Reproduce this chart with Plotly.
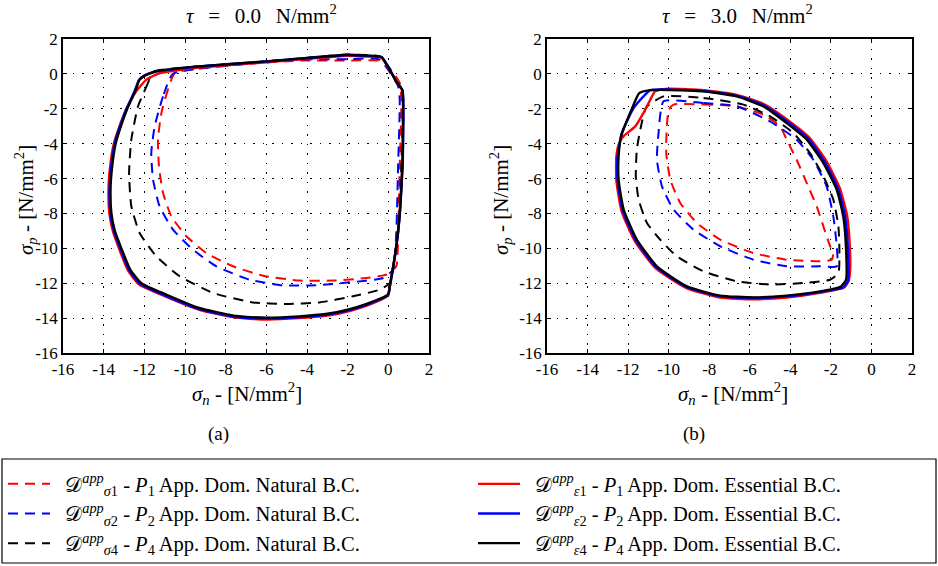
import plotly.graph_objects as go

# ---------------- data: tau = 0.0 N/mm2 (panel a) ----------------
a_ess_p4_x = [-11.98, -11.40, -9.30, -6.00, -4.00, -2.70, -2.10, -1.10, -0.34, 0.39, 0.69, 0.72, 0.70, 0.64, 0.56, 0.46, 0.34, 0.20, 0.08, -0.02, -1.10, -2.10, -3.00, -4.40, -6.00, -7.60, -9.30, -10.90, -12.15, -12.70, -13.13, -13.45, -13.62, -13.66, -13.55, -13.41, -13.15, -12.84, -12.45, -12.23, -11.98]
a_ess_p4_y = [-0.10, 0.15, 0.43, 0.72, 0.92, 1.04, 1.10, 1.05, 0.97, -0.43, -0.94, -3.40, -5.00, -6.45, -8.00, -9.20, -10.30, -11.30, -12.10, -12.65, -13.20, -13.55, -13.75, -13.90, -13.97, -13.86, -13.42, -12.66, -12.00, -11.20, -10.00, -9.00, -8.00, -6.50, -5.00, -4.00, -3.00, -2.00, -1.00, -0.33, -0.10]

a_ess_p2_x = [-12.00, -11.40, -9.30, -6.00, -4.00, -2.70, -2.10, -1.10, -0.32, 0.40, 0.70, 0.73, 0.71, 0.65, 0.57, 0.47, 0.35, 0.21, 0.09, -0.01, -1.10, -2.10, -3.00, -4.40, -6.00, -7.60, -9.30, -10.95, -12.20, -12.75, -13.18, -13.50, -13.67, -13.71, -13.60, -13.46, -13.20, -12.88, -12.48, -12.27, -12.00]
a_ess_p2_y = [-0.10, 0.14, 0.42, 0.71, 0.90, 1.02, 1.08, 1.03, 0.95, -0.45, -0.96, -3.40, -5.00, -6.45, -8.00, -9.20, -10.30, -11.30, -12.10, -12.68, -13.25, -13.60, -13.80, -13.95, -14.02, -13.92, -13.48, -12.72, -12.05, -11.25, -10.02, -9.00, -8.00, -6.50, -5.00, -4.00, -3.00, -2.00, -1.00, -0.36, -0.10]

a_ess_p1_x = [-12.46, -11.90, -11.24, -10.42, -9.30, -6.00, -4.00, -2.70, -2.10, -1.10, -0.34, 0.39, 0.69, 0.72, 0.70, 0.64, 0.56, 0.46, 0.34, 0.20, 0.08, -0.02, -1.10, -2.10, -3.00, -4.40, -6.00, -7.60, -9.30, -11.00, -12.25, -12.80, -13.23, -13.55, -13.72, -13.76, -13.65, -13.50, -13.22, -12.88, -12.46]
a_ess_p1_y = [-1.10, -0.33, 0.05, 0.20, 0.36, 0.66, 0.86, 0.98, 1.04, 1.00, 0.93, -0.45, -0.96, -3.40, -5.00, -6.45, -8.00, -9.20, -10.30, -11.30, -12.10, -12.70, -13.30, -13.65, -13.85, -14.00, -14.08, -13.96, -13.52, -12.74, -12.08, -11.28, -10.05, -9.00, -8.00, -6.50, -5.00, -4.00, -3.00, -2.00, -1.10]

a_nat_p1_x = [-10.50, -10.84, -11.16, -11.33, -11.28, -11.08, -10.67, -9.93, -8.95, -7.64, -6.16, -4.36, -2.72, -1.08, -0.10, 0.39, 0.48, 0.56, 0.64, 0.56, -0.26, -2.00, -4.36, -7.00, -9.30, -10.50]
a_nat_p1_y = [0.05, -0.90, -2.24, -3.77, -5.30, -6.83, -8.17, -9.31, -10.27, -11.03, -11.57, -11.85, -11.85, -11.70, -11.51, -11.03, -9.12, -5.30, -1.48, -0.52, 0.72, 0.76, 0.76, 0.58, 0.30, 0.05]

a_nat_p2_x = [-10.59, -11.08, -11.49, -11.66, -11.57, -11.25, -10.59, -9.60, -8.46, -6.82, -5.18, -3.54, -1.90, -0.26, 0.23, 0.39, 0.48, 0.56, 0.48, -0.43, -2.00, -4.36, -7.64, -10.59]
a_nat_p2_y = [0.01, -1.29, -3.00, -4.54, -6.06, -7.59, -8.93, -10.08, -11.03, -11.80, -12.12, -12.12, -11.95, -11.70, -11.22, -9.12, -5.30, -1.48, -0.71, 0.82, 0.84, 0.82, 0.50, 0.01]

a_nat_p4_x = [-11.60, -11.82, -12.31, -12.64, -12.75, -12.64, -12.23, -11.41, -10.26, -8.62, -6.66, -5.02, -3.38, -1.74, -0.43, 0.07, 0.30, 0.48, 0.64, 0.72, 0.69, 0.39, -0.34, -2.10, -4.00, -6.00, -9.30, -11.60]
a_nat_p4_y = [0.12, -0.52, -1.86, -3.77, -5.68, -7.59, -9.12, -10.46, -11.60, -12.56, -13.10, -13.19, -13.10, -12.75, -12.37, -11.99, -10.50, -9.12, -5.30, -1.48, -0.94, -0.43, 0.97, 1.10, 0.92, 0.72, 0.43, 0.12]

# ---------------- data: tau = 3.0 N/mm2 (panel b) ----------------
b_ess_p4_x = [-11.45, -10.91, -9.92, -8.28, -6.64, -5.33, -4.18, -3.19, -2.37, -1.71, -1.39, -1.25, -1.25, -1.52, -2.54, -4.18, -5.82, -7.46, -9.10, -10.58, -11.57, -12.22, -12.47, -12.47, -12.35, -11.85, -11.45]
b_ess_p4_y = [-1.10, -0.93, -0.92, -1.00, -1.29, -1.86, -2.82, -3.77, -5.11, -6.64, -8.17, -10.08, -11.80, -12.20, -12.47, -12.71, -12.81, -12.71, -12.18, -11.03, -9.50, -7.78, -6.06, -4.73, -3.60, -2.10, -1.10]

b_ess_p2_x = [-10.91, -9.92, -8.28, -6.64, -5.30, -4.12, -3.12, -2.30, -1.64, -1.30, -1.16, -1.15, -1.40, -2.54, -4.18, -5.82, -7.46, -9.12, -10.62, -11.62, -12.27, -12.52, -12.52, -12.31, -11.73, -11.24, -10.91]
b_ess_p2_y = [-0.93, -0.90, -0.98, -1.25, -1.80, -2.75, -3.70, -5.05, -6.60, -8.15, -10.08, -11.85, -12.25, -12.50, -12.75, -12.85, -12.75, -12.22, -11.08, -9.55, -7.82, -6.08, -4.73, -3.39, -1.96, -1.29, -0.93]

b_ess_p1_x = [-12.23, -11.65, -11.24, -10.91, -10.67, -10.30, -9.92, -8.28, -6.64, -5.28, -4.08, -3.06, -2.22, -1.56, -1.20, -1.06, -1.05, -1.12, -1.35, -2.54, -4.18, -5.82, -7.46, -9.12, -10.65, -11.66, -12.32, -12.58, -12.58, -12.45, -12.23]
b_ess_p1_y = [-3.58, -3.01, -2.24, -1.48, -1.00, -0.88, -0.85, -0.93, -1.20, -1.74, -2.68, -3.65, -5.00, -6.55, -8.12, -10.05, -11.20, -11.85, -12.25, -12.55, -12.82, -12.92, -12.82, -12.28, -11.14, -9.60, -7.88, -6.10, -4.75, -4.00, -3.58]

b_nat_p4_x = [-10.25, -8.28, -6.31, -5.00, -3.85, -3.03, -2.37, -1.88, -1.63, -1.58, -1.63, -2.04, -3.36, -5.00, -6.64, -8.28, -9.60, -10.42, -11.07, -11.48, -11.62, -11.57, -11.40, -11.10, -10.25]
b_nat_p4_y = [-1.29, -1.38, -1.76, -2.43, -3.39, -4.54, -5.87, -7.21, -8.74, -10.08, -11.41, -11.80, -11.99, -12.08, -11.89, -11.32, -10.46, -9.50, -8.55, -7.21, -5.87, -4.34, -3.20, -1.90, -1.29]

b_nat_p2_x = [-10.25, -8.28, -6.64, -5.00, -3.69, -2.87, -2.21, -1.88, -1.71, -1.71, -2.54, -4.18, -5.82, -7.46, -8.77, -9.76, -10.33, -10.58, -10.50, -10.25]
b_nat_p2_y = [-1.57, -1.67, -1.86, -2.72, -3.77, -4.92, -6.45, -8.17, -9.88, -11.03, -11.03, -11.03, -10.65, -9.88, -8.93, -7.78, -6.45, -4.92, -3.39, -1.57]

b_nat_p1_x = [-9.76, -8.30, -6.64, -5.33, -4.51, -4.18, -3.69, -3.19, -2.70, -2.37, -2.04, -1.88, -1.96, -2.54, -4.18, -5.82, -7.46, -8.60, -9.43, -9.92, -10.12, -10.09, -10.00, -9.76]
b_nat_p1_y = [-1.76, -1.75, -1.86, -2.34, -3.00, -3.77, -4.92, -6.26, -7.59, -8.74, -9.88, -10.27, -10.65, -10.74, -10.65, -10.27, -9.50, -8.55, -7.40, -6.06, -4.54, -3.00, -2.05, -1.76]

tick_vals = [-16, -14, -12, -10, -8, -6, -4, -2, 0, 2]
tick_text = ["-16", "-14", "-12", "-10", "-8", "-6", "-4", "-2", "0", "2"]

LS = "\u2002"
legend_names = {
    "nat1": LS + "𝒟<sup><i>app</i></sup><sub><i>σ</i>1</sub> - <i>P</i><sub>1</sub> App. Dom. Natural B.C.",
    "nat2": LS + "𝒟<sup><i>app</i></sup><sub><i>σ</i>2</sub> - <i>P</i><sub>2</sub> App. Dom. Natural B.C.",
    "nat4": LS + "𝒟<sup><i>app</i></sup><sub><i>σ</i>4</sub> - <i>P</i><sub>4</sub> App. Dom. Natural B.C.",
    "ess1": LS + "𝒟<sup><i>app</i></sup><sub><i>ε</i>1</sub> - <i>P</i><sub>1</sub> App. Dom. Essential B.C.",
    "ess2": LS + "𝒟<sup><i>app</i></sup><sub><i>ε</i>2</sub> - <i>P</i><sub>2</sub> App. Dom. Essential B.C.",
    "ess4": LS + "𝒟<sup><i>app</i></sup><sub><i>ε</i>4</sub> - <i>P</i><sub>4</sub> App. Dom. Essential B.C.",
}

RED, BLUE, BLACK = "#ff0000", "#0000ff", "#000000"
DASH = "10px,7px"

series = [
    ("nat1", RED, DASH, 2.0, 1, (a_nat_p1_x, a_nat_p1_y), (b_nat_p1_x, b_nat_p1_y)),
    ("nat2", BLUE, DASH, 2.0, 3, (a_nat_p2_x, a_nat_p2_y), (b_nat_p2_x, b_nat_p2_y)),
    ("nat4", BLACK, DASH, 2.0, 5, (a_nat_p4_x, a_nat_p4_y), (b_nat_p4_x, b_nat_p4_y)),
    ("ess1", RED, "solid", 2.4, 2, (a_ess_p1_x, a_ess_p1_y), (b_ess_p1_x, b_ess_p1_y)),
    ("ess2", BLUE, "solid", 2.4, 4, (a_ess_p2_x, a_ess_p2_y), (b_ess_p2_x, b_ess_p2_y)),
    ("ess4", BLACK, "solid", 2.4, 6, (a_ess_p4_x, a_ess_p4_y), (b_ess_p4_x, b_ess_p4_y)),
]

fig = go.Figure()
for key, col, dash, w, rank, da, db in series:
    for (xs, ys), xa, ya, show in ((da, "x", "y", True), (db, "x2", "y2", False)):
        fig.add_trace(go.Scatter(x=xs, y=ys, mode="lines", name=legend_names[key],
                                 line=dict(color=col, dash=dash, width=w, shape="spline", smoothing=0.5),
                                 legendrank=rank, xaxis=xa, yaxis=ya, showlegend=show,
                                 hoverinfo="skip"))

W, H = 938, 566
FONT = "Liberation Serif"

def px(x):
    return x / W

def py(y):
    return 1 - y / H

axis_common = dict(
    range=[-16, 2], tickvals=tick_vals, ticktext=tick_text, tickmode="array",
    showline=True, linecolor="black", linewidth=1.5, mirror="ticks",
    ticks="inside", ticklen=4, tickcolor="black", tickwidth=1,
    showgrid=True, gridcolor="black", gridwidth=1, griddash="1.5px,8px",
    zeroline=False, tickfont=dict(family=FONT, size=17, color="black"),
    fixedrange=True,
)

fig.update_layout(
    width=W, height=H,
    margin=dict(l=0, r=0, t=0, b=0, autoexpand=False),
    paper_bgcolor="white", plot_bgcolor="white",
    font=dict(family=FONT, size=17, color="black"),
    xaxis=dict(domain=[px(63), px(429)], anchor="y", **axis_common),
    yaxis=dict(domain=[py(353), py(39)], anchor="x", **axis_common),
    xaxis2=dict(domain=[px(547), px(912)], anchor="y2", **axis_common),
    yaxis2=dict(domain=[py(353), py(39)], anchor="x2", **axis_common),
    legend=dict(orientation="h", x=px(3), y=py(464), xanchor="left", yanchor="top",
                entrywidth=413, entrywidthmode="pixels", itemwidth=42,
                font=dict(family=FONT, size=20.5, color="black"),
                bgcolor="rgba(0,0,0,0)", borderwidth=0, traceorder="normal"),
    showlegend=True,
)

fig.add_shape(type="rect", xref="paper", yref="paper",
              x0=px(2), x1=px(936), y0=py(563), y1=py(459),
              line=dict(color="black", width=1.2), fillcolor="rgba(0,0,0,0)")

SP = "\u2002\u2009"
annots = [
    (261, 15, f"<i>τ</i>{SP}={SP}0.0{SP}N/mm<sup>2</sup>", 0, 21),
    (737, 15, f"<i>τ</i>{SP}={SP}3.0{SP}N/mm<sup>2</sup>", 0, 21),
    (247, 393, "<i>σ</i><sub><i>n</i></sub> - [N/mm<sup>2</sup>]", 0, 21),
    (733, 393, "<i>σ</i><sub><i>n</i></sub> - [N/mm<sup>2</sup>]", 0, 21),
    (25, 200, "<i>σ</i><sub><i>p</i></sub> - [N/mm<sup>2</sup>]", -90, 21),
    (500, 200, "<i>σ</i><sub><i>p</i></sub> - [N/mm<sup>2</sup>]", -90, 21),
    (218, 434, "(a)", 0, 19),
    (694, 434, "(b)", 0, 19),
]
for x, y, t, ang, fs in annots:
    fig.add_annotation(x=px(x), y=py(y), xref="paper", yref="paper", text=t,
                       showarrow=False, textangle=ang, xanchor="center", yanchor="middle",
                       font=dict(family=FONT, size=fs, color="black"))

fig.write_html("out.html", config={"displayModeBar": False},
               post_script="document.body.style.margin='0';document.body.style.overflow='hidden';")
